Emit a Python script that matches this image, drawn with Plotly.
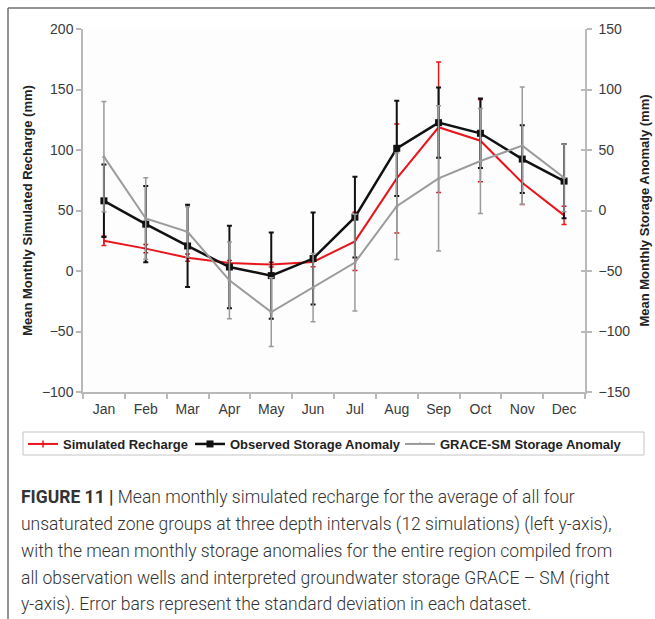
import plotly.graph_objects as go

# Monthly categories
months = ["Jan", "Feb", "Mar", "Apr", "May", "Jun", "Jul", "Aug", "Sep", "Oct", "Nov", "Dec"]

# Simulated recharge (left axis, mm) and its standard deviation
recharge = [25, 18.5, 11, 6.6, 5.3, 7.5, 24.5, 76.5, 118.8, 107.7, 72.9, 46]
recharge_sd = [4, 3.5, 3, 2, 2, 4, 24, 45, 54, 34, 18, 7.5]

# Observed storage anomaly (right axis, mm) and its standard deviation
observed = [8, -11.3, -29.3, -46.7, -53.8, -39.7, -5.5, 51.4, 72.6, 63.8, 42.5, 24.3]
observed_sd = [30, 31.5, 34, 34, 35.6, 38, 33.4, 39.4, 29, 28.7, 28, 30.7]

# GRACE-SM storage anomaly (right axis, mm) and its standard deviation
grace = [44.5, -6.6, -17.7, -57.7, -84, -63.8, -43, 3.6, 26.5, 40.9, 53.6, 27]
grace_sd = [45.5, 33.6, 20.7, 31.7, 28.4, 28.2, 40, 44, 60, 43.4, 48.4, 28]

left_ticks = [-100, -50, 0, 50, 100, 150, 200]
right_ticks = [-150, -100, -50, 0, 50, 100, 150]

caption_lines = [
    "<b>FIGURE 11 |</b> Mean monthly simulated recharge for the average of all four",
    "unsaturated zone groups at three depth intervals (12 simulations) (left y-axis),",
    "with the mean monthly storage anomalies for the entire region compiled from",
    "all observation wells and interpreted groundwater storage GRACE \u2013 SM (right",
    "y-axis). Error bars represent the standard deviation in each dataset.",
]

# page geometry (pixels) of the plotting area
W_PX, H_PX = 655, 619
L, R, T, B = 83, 585, 29, 392


def px(x):
    return (x - L) / (R - L)


def py(y):
    return (B - y) / (B - T)


RED = "#e8161b"
BLACK = "#111111"
GREY = "#9b9b9b"
AXIS = "#b9b9b9"
TXT = "#3a3a3a"

fig = go.Figure()

fig.add_trace(go.Scatter(
    x=months, y=recharge, name="Simulated Recharge", yaxis="y",
    mode="lines+markers", legend="legend", legendwidth=122,
    line=dict(color=RED, width=2),
    marker=dict(symbol="line-ns", size=5, color=RED, line=dict(color=RED, width=1.5)),
    error_y=dict(type="data", array=recharge_sd, color=RED, thickness=1.5, width=2.5),
))

fig.add_trace(go.Scatter(
    x=months, y=observed, name="Observed Storage Anomaly", yaxis="y2",
    mode="lines+markers", legend="legend",
    line=dict(color=BLACK, width=2.5),
    marker=dict(symbol="square", size=7, color=BLACK),
    error_y=dict(type="data", array=observed_sd, color=BLACK, thickness=2, width=2.5),
))

fig.add_trace(go.Scatter(
    x=months, y=grace, name="GRACE-SM Storage Anomaly", yaxis="y2",
    mode="lines+markers", legend="legend2",
    line=dict(color=GREY, width=2),
    marker=dict(symbol="triangle-up", size=4, color=GREY),
    error_y=dict(type="data", array=grace_sd, color=GREY, thickness=1.5, width=2.5),
))

font_axis = dict(family="Liberation Sans, Arial, sans-serif", size=14, color=TXT)
font_title = dict(family="Liberation Sans, Arial, sans-serif", size=13, color="#222222", weight="bold")
font_legend = dict(family="Liberation Sans, Arial, sans-serif", size=13, color="#222222", weight="bold")

fig.update_layout(
    width=W_PX, height=H_PX,
    margin=dict(l=L, r=W_PX - R, t=T, b=H_PX - B, pad=0, autoexpand=False),
    paper_bgcolor="white",
    plot_bgcolor="#fdfdfd",
    showlegend=True,
    xaxis=dict(
        type="category", categoryorder="array", categoryarray=months,
        range=[-0.5, 11.5], automargin=False,
        showline=True, linecolor=AXIS, linewidth=1.5,
        ticks="outside", ticklen=5, tickcolor=AXIS, tickwidth=1.5,
        tickson="boundaries", showgrid=False, zeroline=False,
        tickfont=font_axis, ticklabelstandoff=3,
    ),
    yaxis=dict(
        range=[-100, 200], tickvals=left_ticks, automargin=False,
        showline=True, linecolor=AXIS, linewidth=1.5,
        ticks="outside", ticklen=5, tickcolor=AXIS, tickwidth=1.5,
        showgrid=False, zeroline=False, tickfont=font_axis,
        title=dict(text="Mean Monthly Simulated Recharge (mm)", font=font_title, standoff=6),
    ),
    yaxis2=dict(
        range=[-150, 150], tickvals=right_ticks, overlaying="y", side="right",
        automargin=False,
        showline=True, linecolor=AXIS, linewidth=1.5,
        ticks="outside", ticklen=5, tickcolor=AXIS, tickwidth=1.5,
        showgrid=False, zeroline=False, tickfont=font_axis, ticklabelstandoff=4,
        title=dict(text="Mean Monthly Storage Anomaly (mm)", font=font_title, standoff=11),
    ),
    # inner half of the crossing ticks on the right axis
    yaxis3=dict(
        range=[-150, 150], tickvals=right_ticks, overlaying="y", side="right",
        automargin=False,
        showline=False, ticks="inside", ticklen=4, tickcolor=AXIS, tickwidth=1.5,
        showticklabels=False, showgrid=False, zeroline=False,
    ),
    legend=dict(
        orientation="h", x=px(23), y=py(429), xanchor="left", yanchor="top",
        bgcolor="rgba(0,0,0,0)", borderwidth=0, font=font_legend,
        itemwidth=30, tracegroupgap=0,
    ),
    legend2=dict(
        orientation="h", x=px(400), y=py(429), xanchor="left", yanchor="top",
        bgcolor="rgba(0,0,0,0)", borderwidth=0, font=font_legend,
        itemwidth=30, tracegroupgap=0,
    ),
)

# dummy trace so the inner-tick axis is drawn
fig.add_trace(go.Scatter(x=[months[0]], y=[None], yaxis="y3", showlegend=False, hoverinfo="skip"))

# legend frame
fig.add_shape(type="rect", xref="paper", yref="paper", x0=px(23), x1=px(644), y0=py(432), y1=py(455),
              line=dict(color="#c4c4c4", width=1), fillcolor="rgba(0,0,0,0)", layer="below")

# figure frame: left and top rules
fig.add_shape(type="line", xref="paper", yref="paper", x0=px(8), x1=px(655), y0=py(8), y1=py(8),
              line=dict(color="#6f6f6f", width=1.5))
fig.add_shape(type="line", xref="paper", yref="paper", x0=px(8), x1=px(8), y0=py(8), y1=py(619),
              line=dict(color="#6f6f6f", width=1.5))

caption_y = [497, 524, 551, 578, 604]
for txt, yy in zip(caption_lines, caption_y):
    fig.add_annotation(
        text=txt, xref="paper", yref="paper", x=px(19), y=py(yy),
        xanchor="left", yanchor="middle", showarrow=False,
        font=dict(family="Roboto, sans-serif", size=17.5, color="#333333", weight=300),
    )

fig.write_html("out.html")
